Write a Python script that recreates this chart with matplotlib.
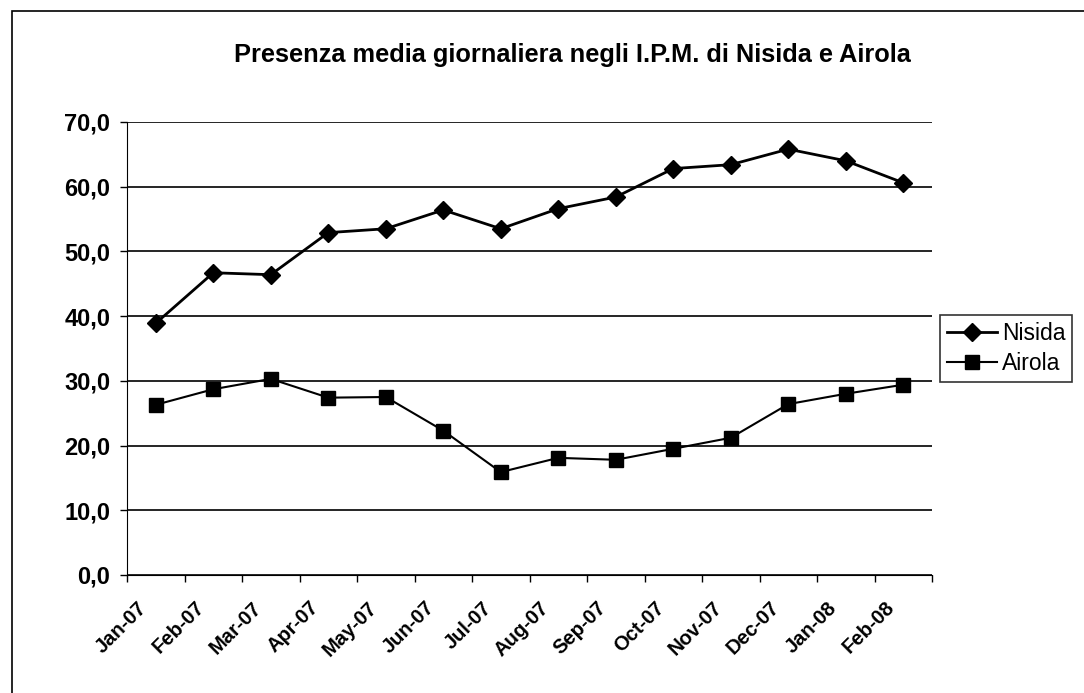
import matplotlib.pyplot as plt
import matplotlib.transforms as mtransforms
from matplotlib.patches import Rectangle

# mesi (etichette asse x)
mesi = ["Jan-07", "Feb-07", "Mar-07", "Apr-07", "May-07", "Jun-07", "Jul-07",
        "Aug-07", "Sep-07", "Oct-07", "Nov-07", "Dec-07", "Jan-08", "Feb-08"]

# presenza media giornaliera
nisida = [38.9, 46.7, 46.4, 52.9, 53.5, 56.4, 53.5, 56.6, 58.4, 62.8, 63.4, 65.8, 64.0, 60.6]
airola = [26.3, 28.7, 30.3, 27.4, 27.5, 22.3, 15.9, 18.1, 17.8, 19.5, 21.2, 26.4, 28.0, 29.4]

yticks = [0, 10, 20, 30, 40, 50, 60, 70]

plt.rcParams['font.family'] = ['Liberation Sans', 'DejaVu Sans']

fig = plt.figure(figsize=(10.84, 6.93), dpi=100)
ax = fig.add_axes([0.1172, 0.1703, 0.7426, 0.6537])

# cornice esterna (solo lati sinistro e superiore visibili)
fig.patches.append(Rectangle((12 / 1084, -0.1), 1.2, 1 - 11 / 693 + 0.1,
                             transform=fig.transFigure, fill=False,
                             edgecolor="black", linewidth=1.2))

x = [i + 0.5 for i in range(len(mesi))]
ax.plot(x, nisida, color="black", linewidth=2, marker="D", markersize=9.5, label="Nisida")
ax.plot(x, airola, color="black", linewidth=1.5, marker="s", markersize=10, label="Airola")

ax.set_xlim(0, len(mesi))
ax.set_ylim(0, 70)

ax.set_yticks(yticks)
ax.set_yticklabels([("%.1f" % v).replace(".", ",") for v in yticks], fontsize=17, fontweight="bold")
ax.set_xticks(range(len(mesi) + 1))
ax.set_xticklabels(mesi + [""], rotation=45, ha="right", rotation_mode="anchor",
                   fontsize=14.5, fontweight="bold")
ax.tick_params(axis="both", direction="out", length=5, width=1, color="black")
ax.tick_params(axis="y", pad=7)
ax.tick_params(axis="x", pad=8)

# spostamento etichette asse x
offset = mtransforms.ScaledTranslation(0.10, -0.05, fig.dpi_scale_trans)
for lab in ax.get_xticklabels():
    lab.set_transform(lab.get_transform() + offset)

ax.grid(axis="y", color="black", linewidth=1.2)
ax.set_axisbelow(True)
ax.spines["top"].set_visible(False)
ax.spines["right"].set_visible(False)

fig.text(572 / 1084, 1 - 55 / 693, "Presenza media giornaliera negli I.P.M. di Nisida e Airola",
         fontsize=18.3, fontweight="bold", ha="center", va="center")

leg = ax.legend(loc="center left", bbox_to_anchor=(1.01, 0.5), fontsize=16.5,
                frameon=True, fancybox=False, edgecolor="black",
                handlelength=2.2, handletextpad=0.2, borderpad=0.3, labelspacing=0.3,
                borderaxespad=0)
leg.get_frame().set_linewidth(1.2)

fig.savefig("out.png", dpi=100)
